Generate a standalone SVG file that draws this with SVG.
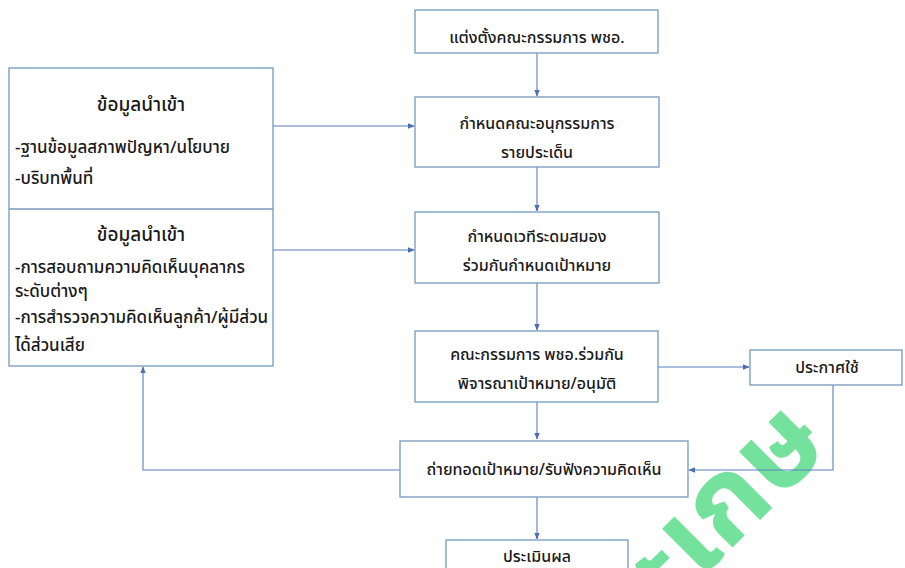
<svg xmlns="http://www.w3.org/2000/svg" width="905" height="568" viewBox="0 0 905 568">
<defs>
<style>
.box{fill:#fff;stroke:#7399bd;stroke-width:1.3}
.t{font-family:"Noto Sans Thai","Noto Sans","DejaVu Sans",sans-serif;font-size:16px;font-weight:500;fill:#1a1a1a}
.c{text-anchor:middle}
.l{font-size:17px}
.h{font-size:19px}
.ln{fill:none;stroke:#5b7fbf;stroke-width:1.1}
.wm{font-family:"Noto Sans Thai","Noto Sans","DejaVu Sans",sans-serif;font-size:115px;font-weight:bold;fill:#74e29d}
</style>
<marker id="ah" viewBox="0 0 10 10" refX="9" refY="5" markerWidth="7" markerHeight="7" orient="auto" markerUnits="userSpaceOnUse">
<path d="M0,1 L10,5 L0,9 z" fill="#4a6fb5"/>
</marker>
</defs>
<rect width="905" height="568" fill="#fff"/>

<g id="watermark">
<text class="wm" transform="translate(833,447) rotate(-45)" text-anchor="end" x="0" y="0">ศรีสะเกษ</text>
</g>

<g id="connectors">
<line class="ln" x1="537" y1="53" x2="537" y2="96" marker-end="url(#ah)"/>
<line class="ln" x1="537" y1="167" x2="537" y2="211" marker-end="url(#ah)"/>
<line class="ln" x1="537" y1="283" x2="537" y2="330" marker-end="url(#ah)"/>
<line class="ln" x1="537" y1="402" x2="537" y2="439" marker-end="url(#ah)"/>
<line class="ln" x1="537" y1="497" x2="537" y2="539" marker-end="url(#ah)"/>
<line class="ln" x1="273" y1="126" x2="414" y2="126" marker-end="url(#ah)"/>
<line class="ln" x1="273" y1="250" x2="414" y2="250" marker-end="url(#ah)"/>
<line class="ln" x1="658" y1="367" x2="749" y2="367" marker-end="url(#ah)"/>
<polyline class="ln" points="833,385 833,470 689,470" marker-end="url(#ah)"/>
<polyline class="ln" points="400,470 143,470 143,367" marker-end="url(#ah)"/>
</g>

<g id="n-input">
<rect class="box" x="9" y="68" width="264" height="298"/>
<line x1="9" y1="209" x2="273" y2="209" stroke="#7399bd" stroke-width="1.3"/>
<text class="t c h" x="141" y="111">ข้อมูลนำเข้า</text>
<text class="t l" x="15" y="153">-ฐานข้อมูลสภาพปัญหา/นโยบาย</text>
<text class="t l" x="15" y="184">-บริบทพื้นที่</text>
<text class="t c h" x="141" y="241">ข้อมูลนำเข้า</text>
<text class="t l" x="15" y="273">-การสอบถามความคิดเห็นบุคลากร</text>
<text class="t l" x="15" y="297">ระดับต่างๆ</text>
<text class="t l" x="15" y="323">-การสำรวจความคิดเห็นลูกค้า/ผู้มีส่วน</text>
<text class="t l" x="15" y="351">ได้ส่วนเสีย</text>
</g>

<g id="n-appoint">
<rect class="box" x="415" y="10" width="243" height="43"/>
<text class="t c" x="537" y="43">แต่งตั้งคณะกรรมการ พชอ.</text>
</g>

<g id="n-subcommittee">
<rect class="box" x="415" y="97" width="244" height="70"/>
<text class="t c" x="537" y="129">กำหนดคณะอนุกรรมการ</text>
<text class="t c" x="537" y="158">รายประเด็น</text>
</g>

<g id="n-forum">
<rect class="box" x="415" y="212" width="244" height="71"/>
<text class="t c" x="537" y="242">กำหนดเวทีระดมสมอง</text>
<text class="t c" x="537" y="271">ร่วมกันกำหนดเป้าหมาย</text>
</g>

<g id="n-approve">
<rect class="box" x="415" y="331" width="243" height="71"/>
<text class="t c" x="537" y="360">คณะกรรมการ พชอ.ร่วมกัน</text>
<text class="t c" x="537" y="389">พิจารณาเป้าหมาย/อนุมัติ</text>
</g>

<g id="n-announce">
<rect class="box" x="750" y="350" width="152" height="35"/>
<text class="t c" x="827" y="373">ประกาศใช้</text>
</g>

<g id="n-transfer">
<rect class="box" x="400" y="441" width="288" height="56"/>
<text class="t c" x="544" y="475">ถ่ายทอดเป้าหมาย/รับฟังความคิดเห็น</text>
</g>

<g id="n-evaluate">
<rect class="box" x="446" y="540" width="182" height="40"/>
<text class="t c" x="537" y="562">ประเมินผล</text>
</g>
</svg>
